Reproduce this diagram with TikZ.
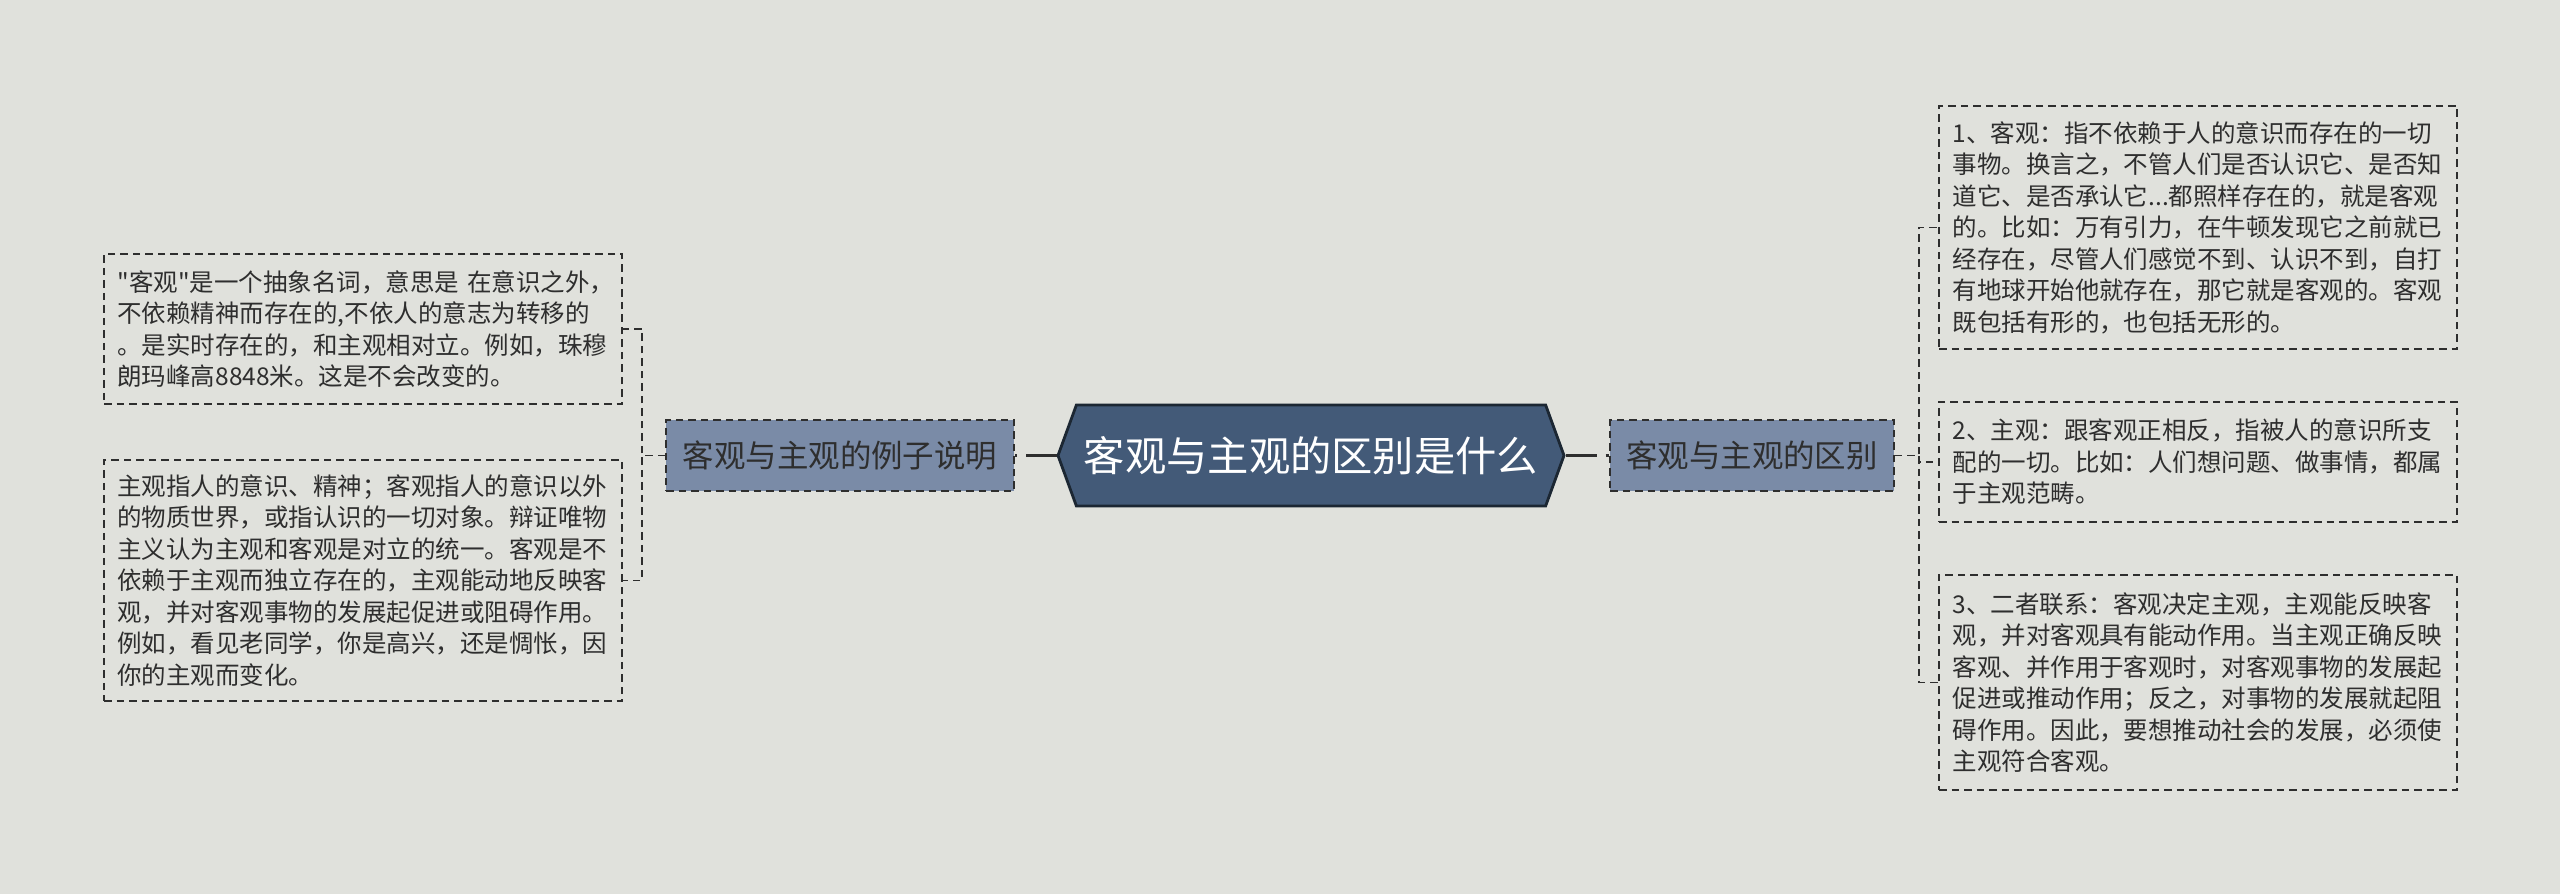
\documentclass[tikz,border=0pt]{standalone}
\usepackage{fontspec}
\setmainfont{Noto Sans CJK SC}[Ligatures=TeXOff]
\usetikzlibrary{shapes.symbols}

\definecolor{bg}{HTML}{E0E1DC}
\definecolor{rootfill}{HTML}{435A78}
\definecolor{rootline}{HTML}{1C2733}
\definecolor{subfill}{HTML}{7A8BA7}
\definecolor{ink}{HTML}{2E2E2E}

\begin{document}
\begin{tikzpicture}[
    rootbox/.style={signal, signal to=west and east, signal pointer angle=140,
        draw=rootline, line width=1.6pt, fill=rootfill, text=white,
        font=\fontsize{23.5pt}{28pt}\selectfont,
        minimum width=10.12cm, minimum height=2.02cm, inner sep=0pt},
    subbox/.style={draw=ink, fill=subfill, line width=0.9pt,
        dash pattern=on 0.15cm off 0.1cm, text=ink,
        font=\fontsize{17.9pt}{22pt}\selectfont,
        minimum height=1.42cm, inner sep=0pt},
    leafbox/.style={draw=ink, line width=0.9pt, dash pattern=on 0.15cm off 0.1cm,
        text=ink, font=\fontsize{13.94pt}{17.93pt}\selectfont,
        text width=9.82cm, align=left, inner xsep=0.27cm, inner ysep=0pt},
    trunk/.style={draw=ink, line width=1.4pt,
        dash pattern=on 0.62cm off 0.18cm on 0.4cm off 0.4cm},
    link/.style={draw=ink, line width=0.9pt, dash pattern=on 0.15cm off 0.1cm}
]
    \fill[bg] (0,0) rectangle (51.2,-17.88);
    \useasboundingbox (0,0) rectangle (51.2,-17.88);

    \node[rootbox] (c) at (26.22, -9.11) {客观与主观的区别是什么};

    \node[subbox, minimum width=6.96cm] (lm) at (16.80, -9.11) {客观与主观的例子说明};
    \node[subbox, minimum width=5.68cm] (rm) at (35.04, -9.11) {客观与主观的区别};

    \node[leafbox, minimum height=3.0cm] (l1) at (7.26, -6.58) {"客观"是一个抽象名词，意思是~在意识之外，\\
不依赖精神而存在的,不依人的意志为转移的\\
。是实时存在的，和主观相对立。例如，珠穆\\
朗玛峰高8848米。这是不会改变的。};
    \node[leafbox, minimum height=4.82cm] (l2) at (7.26, -11.61) {主观指人的意识、精神；客观指人的意识以外\\
的物质世界，或指认识的一切对象。辩证唯物\\
主义认为主观和客观是对立的统一。客观是不\\
依赖于主观而独立存在的，主观能动地反映客\\
观，并对客观事物的发展起促进或阻碍作用。\\
例如，看见老同学，你是高兴，还是惆怅，因\\
你的主观而变化。};

    \node[leafbox, minimum height=4.86cm] (r1) at (43.96, -4.55) {1、客观：指不依赖于人的意识而存在的一切\\
事物。换言之，不管人们是否认识它、是否知\\
道它、是否承认它...都照样存在的，就是客观\\
的。比如：万有引力，在牛顿发现它之前就已\\
经存在，尽管人们感觉不到、认识不到，自打\\
有地球开始他就存在，那它就是客观的。客观\\
既包括有形的，也包括无形的。};
    \node[leafbox, minimum height=2.40cm] (r2) at (43.96, -9.24) {2、主观：跟客观正相反，指被人的意识所支\\
配的一切。比如：人们想问题、做事情，都属\\
于主观范畴。};
    \node[leafbox, minimum height=4.30cm] (r3) at (43.96, -13.65) {3、二者联系：客观决定主观，主观能反映客\\
观，并对客观具有能动作用。当主观正确反映\\
客观、并作用于客观时，对客观事物的发展起\\
促进或推动作用；反之，对事物的发展就起阻\\
碍作用。因此，要想推动社会的发展，必须使\\
主观符合客观。};

    \draw[trunk] (c.west) -- (lm.east);
    \draw[trunk] (c.east) -- (rm.west);

    \draw[link] (lm.west) -- ++(-0.46,0) |- (l1.east);
    \draw[link] (lm.west) -- ++(-0.46,0) |- (l2.east);

    \draw[link] (rm.east) -- ++(0.48,0) |- (r1.west);
    \draw[link] (rm.east) -- ++(0.48,0) |- (r2.west);
    \draw[link] (rm.east) -- ++(0.48,0) |- (r3.west);
\end{tikzpicture}
\end{document}
